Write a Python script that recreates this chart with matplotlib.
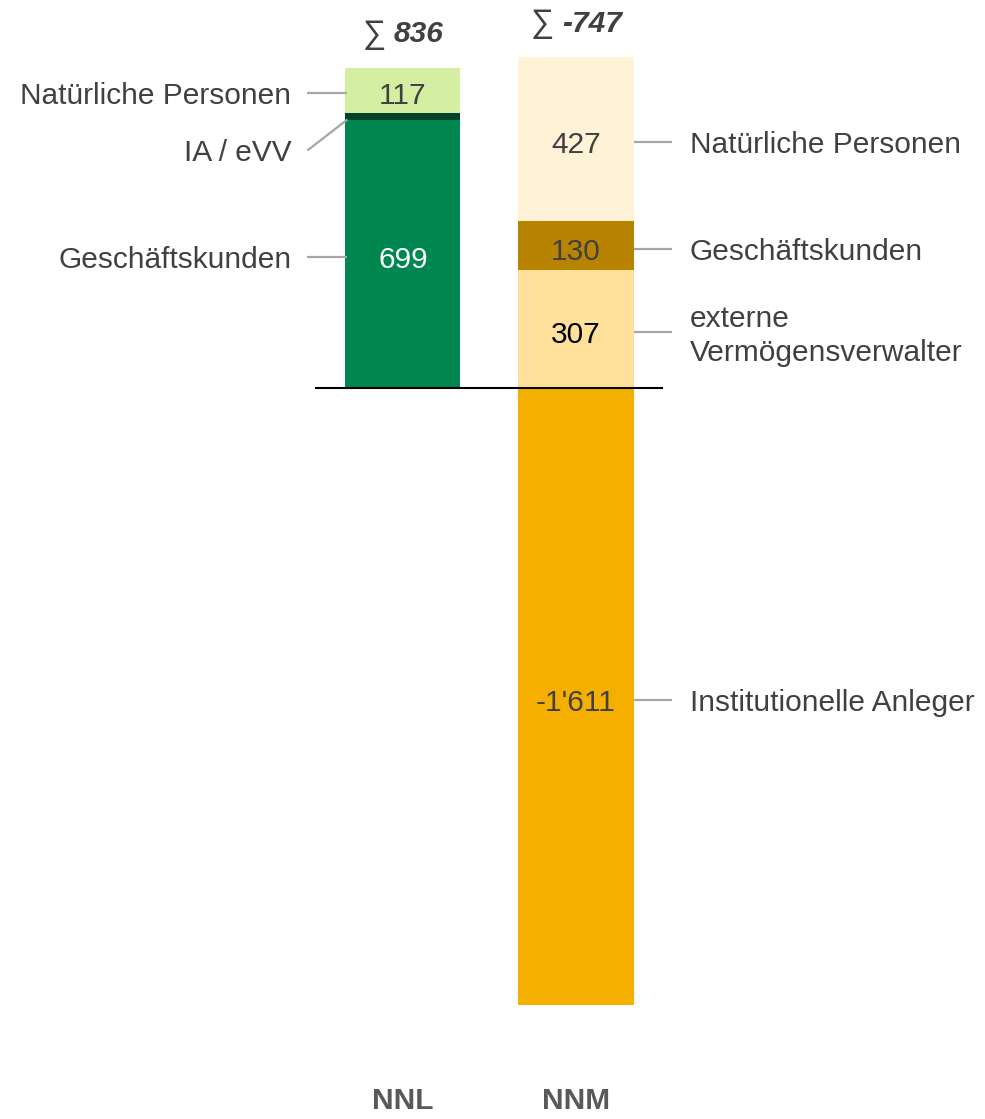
import matplotlib.pyplot as plt
from matplotlib.offsetbox import TextArea, HPacker, AnnotationBbox

plt.rcParams['font.family'] = ['Liberation Sans', 'DejaVu Sans']

bars = ['NNL', 'NNM']
totals = ['836', '-747']

nnl_labels = ['Geschäftskunden', 'IA / eVV', 'Natürliche Personen']
nnl_values = [699, 20, 117]
nnl_texts = ['699', '', '117']

nnm_labels = ['externe\nVermögensverwalter', 'Geschäftskunden', 'Natürliche Personen']
nnm_values = [307, 130, 427]
nnm_texts = ['307', '130', '427']

neg_label = 'Institutionelle Anleger'
neg_value = -1611
neg_text = "-1'611"

nnl_colors = ['#00874F', '#00432A', '#D4EFA2']
nnl_text_colors = ['white', 'white', '#404040']
nnm_colors = ['#FFE09A', '#B88300', '#FFF2D6']
nnm_text_colors = ['black', '#404040', '#404040']
neg_color = '#F5AF00'

grey = '#404040'
line_grey = '#A6A6A6'
fs = 21.5

fig = plt.figure(figsize=(9.85, 11.19), dpi=100)
ax = fig.add_axes([0, 0, 1, 1])
scale = 0.383
ax.set_xlim(-2.329, 3.364)
ax.set_ylim(-731 / scale, 388 / scale)
ax.axis('off')

w = 0.665
px_x = 1 / 173.0
px_y = 1 / scale
shift = -3 * px_y  # labels sit slightly below segment centres

# NNL
bottom = 0
for i, v in enumerate(nnl_values):
    ax.bar(0, v, width=w, bottom=bottom, color=nnl_colors[i], linewidth=0)
    mid = bottom + v / 2 + shift
    if nnl_texts[i]:
        ax.text(0, mid, nnl_texts[i], ha='center', va='center_baseline',
                fontsize=fs, color=nnl_text_colors[i])
    x_edge = -w / 2
    dy = -31 * px_y if nnl_labels[i] == 'IA / eVV' else 0
    ax.plot([x_edge - 38 * px_x, x_edge + 2 * px_x], [mid + dy, mid],
            color=line_grey, lw=1.6, solid_capstyle='butt')
    ax.text(x_edge - 54 * px_x, mid + dy, nnl_labels[i], ha='right',
            va='center_baseline', fontsize=fs, color=grey)
    bottom += v
nnl_top = bottom

# NNM positive
bottom = 0
for i, v in enumerate(nnm_values):
    ax.bar(1, v, width=w, bottom=bottom, color=nnm_colors[i], linewidth=0)
    mid = bottom + v / 2 + shift
    ax.text(1, mid, nnm_texts[i], ha='center', va='center_baseline',
            fontsize=fs, color=nnm_text_colors[i])
    x_edge = 1 + w / 2
    ax.plot([x_edge, x_edge + 38 * px_x], [mid, mid], color=line_grey, lw=1.6,
            solid_capstyle='butt')
    if '\n' in nnm_labels[i]:
        ax.text(x_edge + 56 * px_x, mid - 4 * px_y, nnm_labels[i], ha='left',
                va='center', fontsize=fs, color=grey, linespacing=1.25)
    else:
        ax.text(x_edge + 56 * px_x, mid, nnm_labels[i], ha='left',
                va='center_baseline', fontsize=fs, color=grey)
    bottom += v
nnm_top = bottom

# NNM negative
ax.bar(1, neg_value, width=w, color=neg_color, linewidth=0)
mid = neg_value / 2 + shift
ax.text(1, mid, neg_text, ha='center', va='center_baseline', fontsize=fs,
        color=grey)
x_edge = 1 + w / 2
ax.plot([x_edge, x_edge + 38 * px_x], [mid, mid], color=line_grey, lw=1.6,
        solid_capstyle='butt')
ax.text(x_edge + 56 * px_x, mid, neg_label, ha='left', va='center_baseline',
        fontsize=fs, color=grey)

# baseline
ax.plot([-0.5, 1.5], [0, 0], color='black', lw=1.5)

# sums
for i, (top, tot) in enumerate(zip([nnl_top, nnm_top], totals)):
    box = HPacker(children=[TextArea('∑', textprops=dict(fontsize=fs + 2, color=grey)),
                            TextArea(tot, textprops=dict(fontsize=fs, color=grey,
                                                         fontweight='bold',
                                                         fontstyle='italic'))],
                  align='center', pad=0, sep=6)
    ab = AnnotationBbox(box, (i, top), xybox=(0, 24), xycoords='data',
                        boxcoords='offset points', frameon=False,
                        box_alignment=(0.5, 0.5))
    ax.add_artist(ab)

# category labels
for i, b in enumerate(bars):
    ax.text(i, 0.016, b, transform=ax.get_xaxis_transform(), ha='center',
            va='center', fontsize=fs, fontweight='bold', color='#595959')

plt.savefig('out.png', dpi=100)
